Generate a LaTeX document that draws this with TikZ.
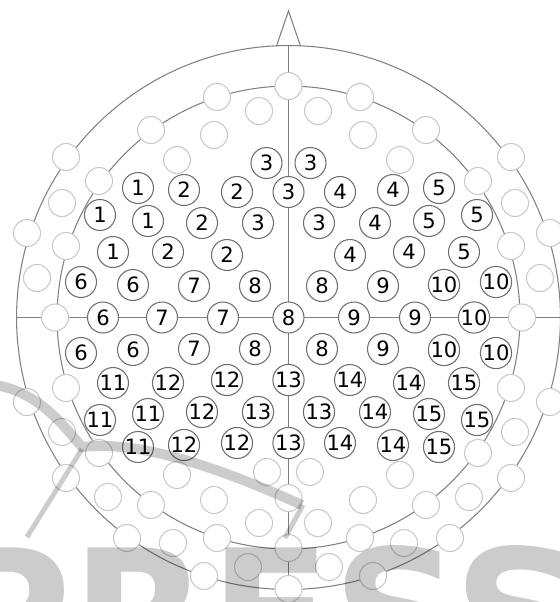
\documentclass[tikz,border=0pt]{standalone}
\usepackage{fontspec}
\usepackage{tikz}
\usetikzlibrary{positioning}
\usepackage{xcolor}
\definecolor{ringgray}{HTML}{808080}
\definecolor{elecgray}{HTML}{6E6E6E}
\definecolor{sparegray}{HTML}{C8C8C8}
\newfontfamily\elecfont{DejaVu Sans}
\newfontfamily\markfont{DejaVu Sans}

\begin{document}
\begin{tikzpicture}[
    x=0.02cm, y=-0.02cm,
    ring/.style={draw=ringgray, line width=0.6pt},
    elec/.style={circle, draw=elecgray, fill=white, line width=0.6pt, inner sep=0pt,
                 minimum size=0.62cm, font=\elecfont\fontsize{12}{12}\selectfont},
    spare/.style={circle, draw=sparegray, fill=white, line width=0.6pt, inner sep=0pt,
                  minimum size=0.54cm},
    wmark/.style={draw=black, opacity=0.2, line cap=butt},
    wmtext/.style={text=black, opacity=0.2, inner sep=0pt,
                   font=\markfont\bfseries\fontsize{102}{102}\selectfont}
]
    \useasboundingbox (0,0) rectangle (559,602);

    % Head outline and midlines
    \draw[ring] (288.5,317.5) circle[radius=5.44cm];
    \draw[ring] (288.5,317.5) circle[radius=4.63cm];
    \coordinate (earL) at (16.5,317.5);
    \coordinate (earR) at (560.5,317.5);
    \coordinate (nasion) at (288.5,45.5);
    \coordinate (inion) at (288.5,589.5);
    \draw[ring] (earL) -- (earR);
    \draw[ring] (nasion) -- (inion);

    % Nose
    \coordinate (noseL) at (276.5,46);
    \coordinate (noseT) at (288.5,11);
    \coordinate (noseR) at (300.5,46);
    \draw[ring] (noseL) -- (noseT) -- (noseR);

    % Unused positions (front)
    \node[spare] (s1) at (288.5,86) {};
    \node[spare] (s2) at (259,111) {};
    \node[spare] (s3) at (318,111) {};
    \node[spare] (s4) at (217,97) {};
    \node[spare] (s5) at (360,97) {};
    \node[spare] (s6) at (214,135) {};
    \node[spare] (s7) at (363,135) {};
    \node[spare] (s8) at (151,130) {};
    \node[spare] (s9) at (426,130) {};
    \node[spare] (s10) at (177,160) {};
    \node[spare] (s11) at (400,160) {};
    \node[spare] (s12) at (66,157) {};
    \node[spare] (s13) at (511,157) {};
    \node[spare] (s14) at (99,181) {};
    \node[spare] (s15) at (478,181) {};
    \node[spare] (s16) at (62,203) {};
    \node[spare] (s17) at (515,203) {};
    \node[spare] (s18) at (27,233) {};
    \node[spare] (s19) at (550,233) {};
    \node[spare] (s20) at (66,246) {};
    \node[spare] (s21) at (511,246) {};
    \node[spare] (s22) at (37,278) {};
    \node[spare] (s23) at (540,278) {};
    \node[spare] (s24) at (55,317.5) {};
    \node[spare] (s25) at (522,317.5) {};

    % Unused positions (back)
    \node[spare] (s26) at (66,388) {};
    \node[spare] (s27) at (511,388) {};
    \node[spare] (s28) at (27,402) {};
    \node[spare] (s29) at (550,402) {};
    \node[spare] (s30) at (62,432) {};
    \node[spare] (s31) at (515,432) {};
    \node[spare] (s32) at (99,453) {};
    \node[spare] (s33) at (478,453) {};
    \node[spare] (s34) at (66,478) {};
    \node[spare] (s35) at (511,478) {};
    \node[spare] (s36) at (267,472) {};
    \node[spare] (s37) at (310,472) {};
    \node[spare] (s38) at (177,475) {};
    \node[spare] (s39) at (400,475) {};
    \node[spare] (s40) at (108,497) {};
    \node[spare] (s41) at (469,497) {};
    \node[spare] (s42) at (151,505) {};
    \node[spare] (s43) at (426,505) {};
    \node[spare] (s44) at (214,500) {};
    \node[spare] (s45) at (363,500) {};
    \node[spare] (s46) at (288.5,498) {};
    \node[spare] (s47) at (259,523) {};
    \node[spare] (s48) at (318,523) {};
    \node[spare] (s49) at (217,538) {};
    \node[spare] (s50) at (360,538) {};
    \node[spare] (s51) at (127,538) {};
    \node[spare] (s52) at (450,538) {};
    \node[spare] (s53) at (173,543) {};
    \node[spare] (s54) at (404,543) {};
    \node[spare] (s55) at (288.5,548) {};
    \node[spare] (s56) at (248,567) {};
    \node[spare] (s57) at (329,567) {};
    \node[spare] (s58) at (204,576) {};
    \node[spare] (s59) at (373,576) {};
    \node[spare] (s60) at (288.5,589) {};

    % Row a
    \node[elec] (a1) at (266.5,163) {3};
    \node[elec] (a2) at (310.5,163) {3};

    % Row b
    \node[elec] (b1) at (138,188) {1};
    \node[elec] (b2) at (184,190) {2};
    \node[elec] (b3) at (237,192) {2};
    \node[elec] (b4) at (288.5,192) {3};
    \node[elec] (b5) at (340,192) {4};
    \node[elec] (b6) at (393,190) {4};
    \node[elec] (b7) at (439,188) {5};

    % Row c
    \node[elec] (c1) at (100,215) {1};
    \node[elec] (c2) at (148,221) {1};
    \node[elec] (c3) at (202,223) {2};
    \node[elec] (c4) at (258,223) {3};
    \node[elec] (c5) at (319,223) {3};
    \node[elec] (c6) at (375,223) {4};
    \node[elec] (c7) at (429,221) {5};
    \node[elec] (c8) at (477,215) {5};

    % Row d
    \node[elec] (d1) at (113,252) {1};
    \node[elec] (d2) at (168,252) {2};
    \node[elec] (d3) at (227,255) {2};
    \node[elec] (d4) at (350,255) {4};
    \node[elec] (d5) at (409,252) {4};
    \node[elec] (d6) at (464,252) {5};

    % Row e
    \node[elec] (e1) at (81,282) {6};
    \node[elec] (e2) at (133,285) {6};
    \node[elec] (e3) at (194,286) {7};
    \node[elec] (e4) at (255,286) {8};
    \node[elec] (e5) at (322,286) {8};
    \node[elec] (e6) at (383,286) {9};
    \node[elec] (e7) at (444,285) {10};
    \node[elec] (e8) at (496,282) {10};

    % Row f (on the ear line)
    \node[elec] (f1) at (103,317.5) {6};
    \node[elec] (f2) at (162,317.5) {7};
    \node[elec] (f3) at (223,317.5) {7};
    \node[elec] (f4) at (288.5,317.5) {8};
    \node[elec] (f5) at (354,317.5) {9};
    \node[elec] (f6) at (415,317.5) {9};
    \node[elec] (f7) at (474,317.5) {10};

    % Row g
    \node[elec] (g1) at (81,353) {6};
    \node[elec] (g2) at (133,350) {6};
    \node[elec] (g3) at (194,349) {7};
    \node[elec] (g4) at (255,349) {8};
    \node[elec] (g5) at (322,349) {8};
    \node[elec] (g6) at (383,349) {9};
    \node[elec] (g7) at (444,350) {10};
    \node[elec] (g8) at (496,353) {10};

    % Row h
    \node[elec] (h1) at (113,383) {11};
    \node[elec] (h2) at (168,383) {12};
    \node[elec] (h3) at (227,380) {12};
    \node[elec] (h4) at (288.5,380) {13};
    \node[elec] (h5) at (350,380) {14};
    \node[elec] (h6) at (409,383) {14};
    \node[elec] (h7) at (464,383) {15};

    % Row i
    \node[elec] (i1) at (100,420) {11};
    \node[elec] (i2) at (148,414) {11};
    \node[elec] (i3) at (202,412) {12};
    \node[elec] (i4) at (258,412) {13};
    \node[elec] (i5) at (319,412) {13};
    \node[elec] (i6) at (375,412) {14};
    \node[elec] (i7) at (429,414) {15};
    \node[elec] (i8) at (477,420) {15};

    % Row j
    \node[elec] (j1) at (138,447) {11};
    \node[elec] (j2) at (184,445) {12};
    \node[elec] (j3) at (237,443) {12};
    \node[elec] (j4) at (288.5,443) {13};
    \node[elec] (j5) at (340,443) {14};
    \node[elec] (j6) at (393,445) {14};
    \node[elec] (j7) at (439,447) {15};

    % Publisher watermark
    \draw[wmark, line width=5.7pt] (-5,385) .. controls (40,392) and (65,428) .. (82,447)
        .. controls (140,440) and (220,468) .. (302,505);
    \draw[wmark, line width=2.8pt] (27,537) -- (82,449);
    \draw[wmark, line width=2.8pt] (303,505) -- (285,538);
    \node[wmtext, anchor=north west] (press) at (-60,545) {PRESS};
\end{tikzpicture}
\end{document}
